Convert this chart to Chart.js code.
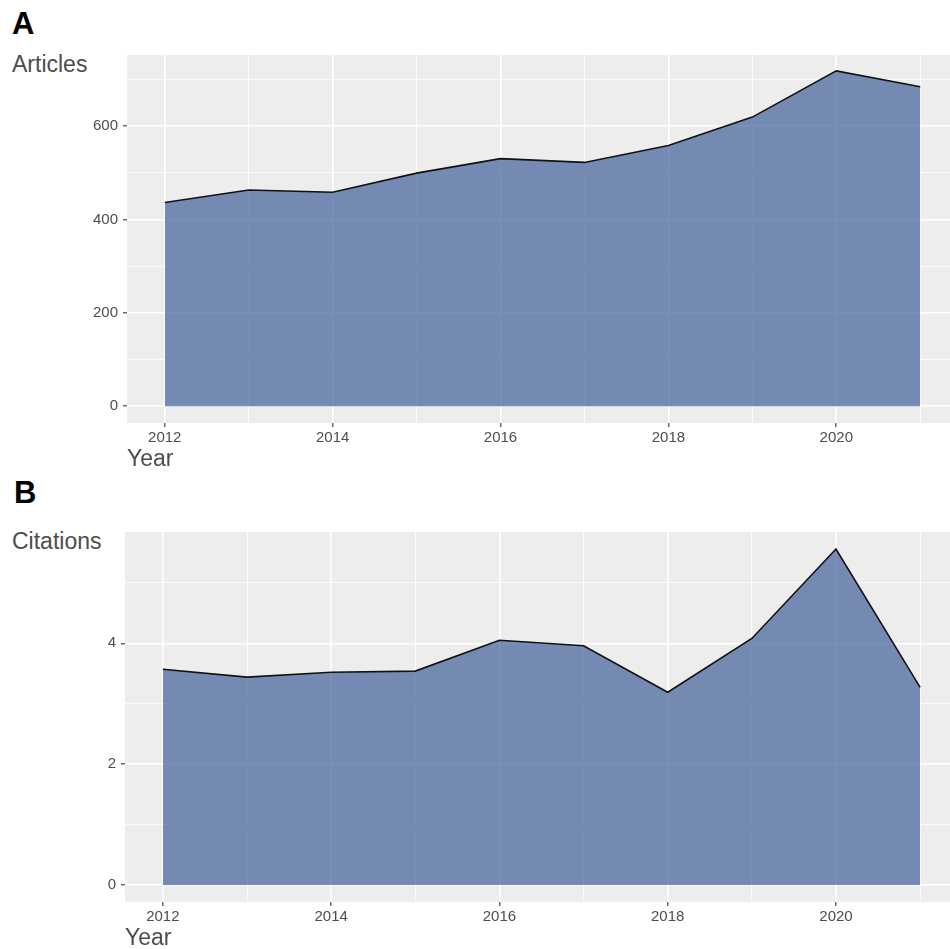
<!DOCTYPE html>
<html>
<head>
<meta charset="utf-8">
<script src="https://cdn.jsdelivr.net/npm/chart.js@4/dist/chart.umd.min.js"></script>
<style>
  html, body { margin:0; padding:0; background:#fff; overflow:hidden; width:950px; height:949px; }
  .wrap { position:absolute; left:0; width:960px; }
  .lbl { position:absolute; font-family:"Liberation Sans", Arial, sans-serif; line-height:1; white-space:nowrap; }
  .panel { font-weight:bold; font-size:31px; color:#000; }
  .ytitle { font-size:23px; color:#4d4d4d; }
</style>
</head>
<body>
<div class="lbl panel" style="left:12px; top:8px;">A</div>
<div class="lbl ytitle" style="left:12px; top:53px;">Articles</div>
<div class="wrap" style="top:0; height:473px;"><canvas id="cA"></canvas></div>
<div class="lbl panel" style="left:14px; top:477px;">B</div>
<div class="lbl ytitle" style="left:12px; top:530px;">Citations</div>
<div class="wrap" style="top:480px; height:472px;"><canvas id="cB"></canvas></div>
<script>
const years = [2012, 2013, 2014, 2015, 2016, 2017, 2018, 2019, 2020, 2021];
const articles = [436, 463, 458, 499, 530, 522, 558, 619, 718, 684];
const citations = [3.57, 3.44, 3.52, 3.54, 4.05, 3.96, 3.19, 4.08, 5.56, 3.27];

const yearTicks = [2012, 2013, 2014, 2015, 2016, 2017, 2018, 2019, 2020, 2021];
const yearLabels = [2012, 2014, 2016, 2018, 2020];
const articleTicks = [0, 100, 200, 300, 400, 500, 600, 700];
const articleLabels = [0, 200, 400, 600];
const citationTicks = [0, 1, 2, 3, 4, 5];
const citationLabels = [0, 2, 4];

const FONT = '"Liberation Sans", Arial, sans-serif';

const panelBg = {
  id: 'panelBg',
  beforeDraw(chart) {
    const {ctx, chartArea: a} = chart;
    ctx.save();
    ctx.fillStyle = '#EDEDED';
    ctx.fillRect(a.left, a.top, a.right - a.left, a.bottom - a.top);
    ctx.restore();
  }
};

function makeChart(id, values, yTicks, yLabels, yMin, yMax, topPad, yWidth) {
  const isMajorX = v => yearLabels.includes(v);
  const isMajorY = v => yLabels.includes(v);
  return new Chart(document.getElementById(id), {
    type: 'line',
    data: {
      datasets: [{
        data: years.map((y, i) => ({x: y, y: values[i]})),
        borderColor: '#111111',
        borderWidth: 1.6,
        backgroundColor: 'rgba(69,100,157,0.72)',
        fill: 'origin',
        pointRadius: 0,
        tension: 0
      }]
    },
    options: {
      responsive: true,
      maintainAspectRatio: false,
      animation: false,
      events: [],
      layout: { padding: { top: topPad, right: 2, left: 0, bottom: 0 } },
      plugins: { legend: { display: false }, tooltip: { enabled: false } },
      scales: {
        x: {
          type: 'linear',
          min: 2011.55,
          max: 2021.45,
          afterBuildTicks: s => { s.ticks = yearTicks.map(v => ({value: v})); },
          afterFit: s => { s.height = 50; },
          border: { display: false },
          grid: {
            color: c => '#FFFFFF',
            lineWidth: c => (c.tick && isMajorX(c.tick.value)) ? 1.6 : 0.8,
            drawTicks: true,
            tickLength: 4,
            tickColor: c => (c.tick && isMajorX(c.tick.value)) ? '#333333' : 'rgba(0,0,0,0)',
            tickWidth: 1.1
          },
          ticks: {
            autoSkip: false,
            maxRotation: 0,
            padding: 2,
            color: '#4D4D4D',
            font: { family: FONT, size: 15 },
            callback: v => isMajorX(v) ? String(v) : ''
          },
          title: {
            display: true,
            text: 'Year',
            align: 'start',
            color: '#4D4D4D',
            font: { family: FONT, size: 23, lineHeight: 1.2 },
            padding: 0
          }
        },
        y: {
          type: 'linear',
          min: yMin,
          max: yMax,
          afterBuildTicks: s => { s.ticks = yTicks.map(v => ({value: v})); },
          afterFit: s => { s.width = yWidth; },
          border: { display: false },
          grid: {
            color: c => '#FFFFFF',
            lineWidth: c => (c.tick && isMajorY(c.tick.value)) ? 1.6 : 0.8,
            drawTicks: true,
            tickLength: 4,
            tickColor: c => (c.tick && isMajorY(c.tick.value)) ? '#333333' : 'rgba(0,0,0,0)',
            tickWidth: 1.1
          },
          ticks: {
            autoSkip: false,
            padding: 5,
            color: '#4D4D4D',
            font: { family: FONT, size: 15 },
            callback: v => isMajorY(v) ? String(v) : ''
          }
        }
      }
    },
    plugins: [panelBg]
  });
}

makeChart('cA', articles, articleTicks, articleLabels, -36, 752, 55, 127);
makeChart('cB', citations, citationTicks, citationLabels, -0.281, 5.842, 52, 125);
</script>
</body>
</html>
